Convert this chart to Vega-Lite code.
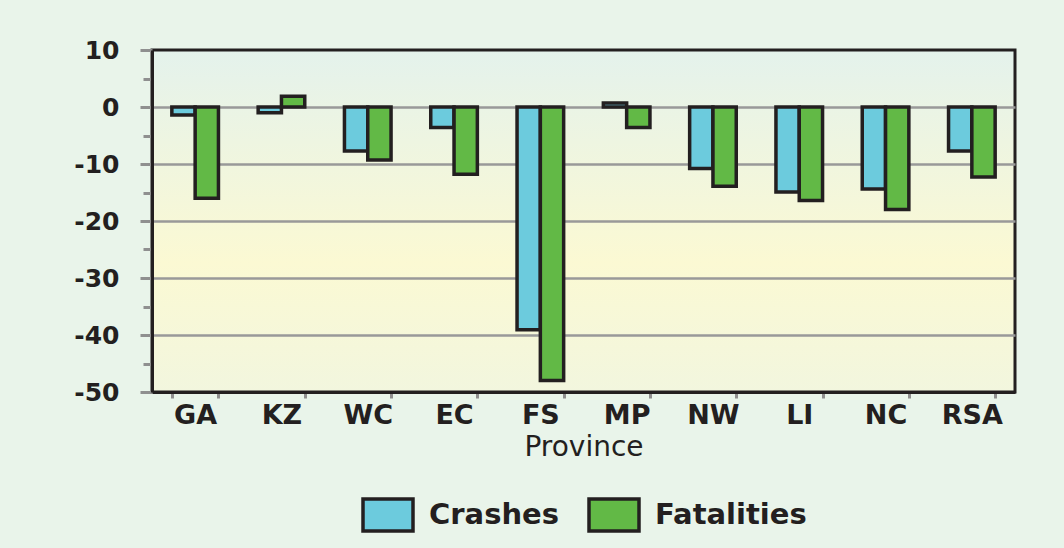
{
  "$schema": "https://vega.github.io/schema/vega-lite/v6.json",
  "width": 863,
  "height": 342,
  "autosize": {"type": "none"},
  "padding": {"left": 152, "top": 50, "right": 49, "bottom": 156},
  "background": "#e9f4ea",
  "data": {
    "values": [
      {"Province": "GA", "Measure": "Crashes", "Value": -1.4},
      {"Province": "GA", "Measure": "Fatalities", "Value": -16},
      {"Province": "KZ", "Measure": "Crashes", "Value": -1},
      {"Province": "KZ", "Measure": "Fatalities", "Value": 1.9},
      {"Province": "WC", "Measure": "Crashes", "Value": -7.7},
      {"Province": "WC", "Measure": "Fatalities", "Value": -9.3},
      {"Province": "EC", "Measure": "Crashes", "Value": -3.6},
      {"Province": "EC", "Measure": "Fatalities", "Value": -11.8},
      {"Province": "FS", "Measure": "Crashes", "Value": -39.1},
      {"Province": "FS", "Measure": "Fatalities", "Value": -48},
      {"Province": "MP", "Measure": "Crashes", "Value": 0.7},
      {"Province": "MP", "Measure": "Fatalities", "Value": -3.6},
      {"Province": "NW", "Measure": "Crashes", "Value": -10.8},
      {"Province": "NW", "Measure": "Fatalities", "Value": -13.9},
      {"Province": "LI", "Measure": "Crashes", "Value": -14.9},
      {"Province": "LI", "Measure": "Fatalities", "Value": -16.4},
      {"Province": "NC", "Measure": "Crashes", "Value": -14.4},
      {"Province": "NC", "Measure": "Fatalities", "Value": -18},
      {"Province": "RSA", "Measure": "Crashes", "Value": -7.7},
      {"Province": "RSA", "Measure": "Fatalities", "Value": -12.3}
    ]
  },
  "mark": {"type": "bar", "stroke": "#231f20", "strokeWidth": 3.5},
  "encoding": {
    "x": {
      "field": "Province",
      "type": "nominal",
      "sort": ["GA", "KZ", "WC", "EC", "FS", "MP", "NW", "LI", "NC", "RSA"],
      "scale": {"paddingInner": 0.46, "paddingOuter": 0.23},
      "axis": {
        "title": "Province",
        "labelAngle": 0,
        "labelFont": "DejaVu Sans",
        "labelFontWeight": "bold",
        "labelFontSize": 27,
        "labelColor": "#231f20",
        "labelPadding": 4,
        "tickBand": "extent",
        "tickSize": 6,
        "tickColor": "#8f8f8f",
        "tickWidth": 3,
        "domainColor": "#231f20",
        "domainWidth": 3,
        "titleFont": "DejaVu Sans",
        "titleFontWeight": "normal",
        "titleFontSize": 28,
        "titleColor": "#231f20",
        "titlePadding": 5
      }
    },
    "xOffset": {
      "field": "Measure",
      "type": "nominal",
      "sort": ["Crashes", "Fatalities"],
      "scale": {"paddingInner": 0, "paddingOuter": 0}
    },
    "y": {
      "field": "Value",
      "type": "quantitative",
      "scale": {"domain": [-50, 10], "nice": false, "zero": false},
      "axis": {
        "title": null,
        "values": [10, 5, 0, -5, -10, -15, -20, -25, -30, -35, -40, -45, -50],
        "labelExpr": "datum.value % 10 === 0 ? '' + datum.value : ''",
        "labelFont": "DejaVu Sans",
        "labelFontWeight": "bold",
        "labelFontSize": 25,
        "labelColor": "#231f20",
        "labelPadding": 21,
        "tickColor": "#8f8f8f",
        "tickWidth": 3,
        "tickSize": {"condition": {"test": "datum.value % 10 !== 0", "value": 9}, "value": 12},
        "domainColor": "#231f20",
        "domainWidth": 3,
        "grid": true,
        "gridColor": "#999999",
        "gridWidth": 2.5,
        "gridOpacity": {"condition": {"test": "datum.value % 10 !== 0 || datum.value === 10 || datum.value === -50", "value": 0}, "value": 1}
      }
    },
    "color": {
      "field": "Measure",
      "type": "nominal",
      "sort": ["Crashes", "Fatalities"],
      "scale": {"domain": ["Crashes", "Fatalities"], "range": ["#6ccbdd", "#62b946"]},
      "legend": {
        "title": null,
        "orient": "bottom",
        "direction": "horizontal",
        "offset": 27,
        "symbolType": "M-1,-0.64H1V0.64H-1Z",
        "symbolSize": 2500,
        "symbolStrokeColor": "#231f20",
        "symbolStrokeWidth": 3.5,
        "symbolOpacity": 1,
        "labelFont": "DejaVu Sans",
        "labelFontWeight": "bold",
        "labelFontSize": 29,
        "labelColor": "#231f20",
        "labelOffset": 14,
        "columnPadding": 23,
        "labelLimit": 300
      }
    }
  },
  "config": {
    "legend": {
      "layout": {"bottom": {"anchor": "middle"}}
    },
    "view": {
      "stroke": "#231f20",
      "strokeWidth": 3,
      "fill": {
        "gradient": "linear",
        "x1": 0, "y1": 0, "x2": 0, "y2": 1,
        "stops": [
          {"offset": 0, "color": "#e4f2ec"},
          {"offset": 0.62, "color": "#fbf9d3"},
          {"offset": 1, "color": "#f2f6de"}
        ]
      }
    }
  }
}
